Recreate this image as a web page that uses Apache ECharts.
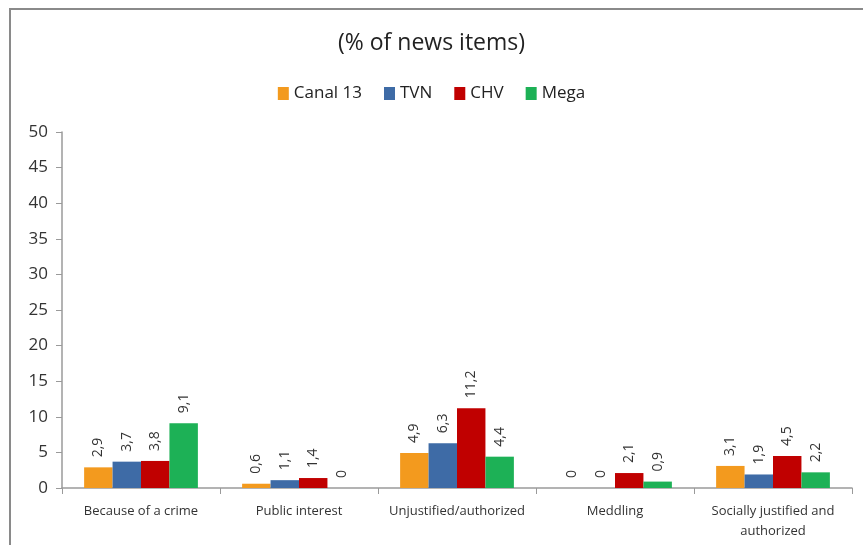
<!DOCTYPE html>
<html><head><meta charset="utf-8">
<script src="https://cdn.jsdelivr.net/npm/echarts@6/dist/echarts.min.js"></script>
<style>html,body{margin:0;padding:0;background:#fff}#c{width:863px;height:545px}</style>
</head><body><div id="c"></div>
<script>
const categories = ["Because of a crime", "Public interest", "Unjustified/authorized", "Meddling", "Socially justified and\nauthorized"];
const seriesNames = ["Canal 13", "TVN", "CHV", "Mega"];
const canal13 = [2.9, 0.6, 4.9, 0, 3.1];
const tvn = [3.7, 1.1, 6.3, 0, 1.9];
const chv = [3.8, 1.4, 11.2, 2.1, 4.5];
const mega = [9.1, 0, 4.4, 0.9, 2.2];
const colors = ["#F39A1E", "#3E6BA6", "#C00000", "#1DB156"];
const values = [canal13, tvn, chv, mega];

const chart = echarts.init(document.getElementById('c'));
chart.setOption({
  animation: false,
  color: colors,
  title: {
    text: "(% of news items)", left: 'center', top: 27,
    textStyle: {fontFamily: 'Open Sans, sans-serif', fontSize: 23, fontWeight: 'normal', color: '#222'}
  },
  legend: {
    top: 80, left: 'center', itemWidth: 11, itemHeight: 13, itemGap: 22,
    icon: 'rect',
    textStyle: {fontFamily: 'Open Sans, sans-serif', fontSize: 17, color: '#222'},
    data: seriesNames
  },
  graphic: [{
    type: 'polyline', shape: {points: [[10, 560], [10, 9], [870, 9]]},
    style: {stroke: '#8a8a8a', lineWidth: 2, fill: null}, silent: true
  }],
  grid: {left: 62, right: 11, top: 132, bottom: 57},
  xAxis: {
    type: 'category', data: categories,
    axisLine: {lineStyle: {color: '#9a9a9a', width: 1.5}},
    axisTick: {show: true, length: 6, lineStyle: {color: '#9a9a9a'}},
    axisLabel: {fontFamily: 'Open Sans, sans-serif', fontSize: 13, color: '#333', margin: 13, lineHeight: 20, interval: 0}
  },
  yAxis: {
    type: 'value', min: 0, max: 50, interval: 5,
    axisLine: {show: true, lineStyle: {color: '#9a9a9a', width: 1.5}},
    axisTick: {show: true, length: 6, lineStyle: {color: '#9a9a9a'}},
    splitLine: {show: false},
    axisLabel: {fontFamily: 'Open Sans, sans-serif', fontSize: 17, color: '#333', margin: 14}
  },
  series: seriesNames.map((n, i) => ({
    name: n, type: 'bar', data: values[i],
    barGap: '0%', barCategoryGap: '28%',
    label: {
      show: true, position: 'top', rotate: 90, align: 'left', verticalAlign: 'middle', distance: 10,
      fontFamily: 'Open Sans, sans-serif', fontSize: 14, color: '#333',
      formatter: p => String(p.value).replace('.', ',')
    }
  }))
});
</script></body></html>
